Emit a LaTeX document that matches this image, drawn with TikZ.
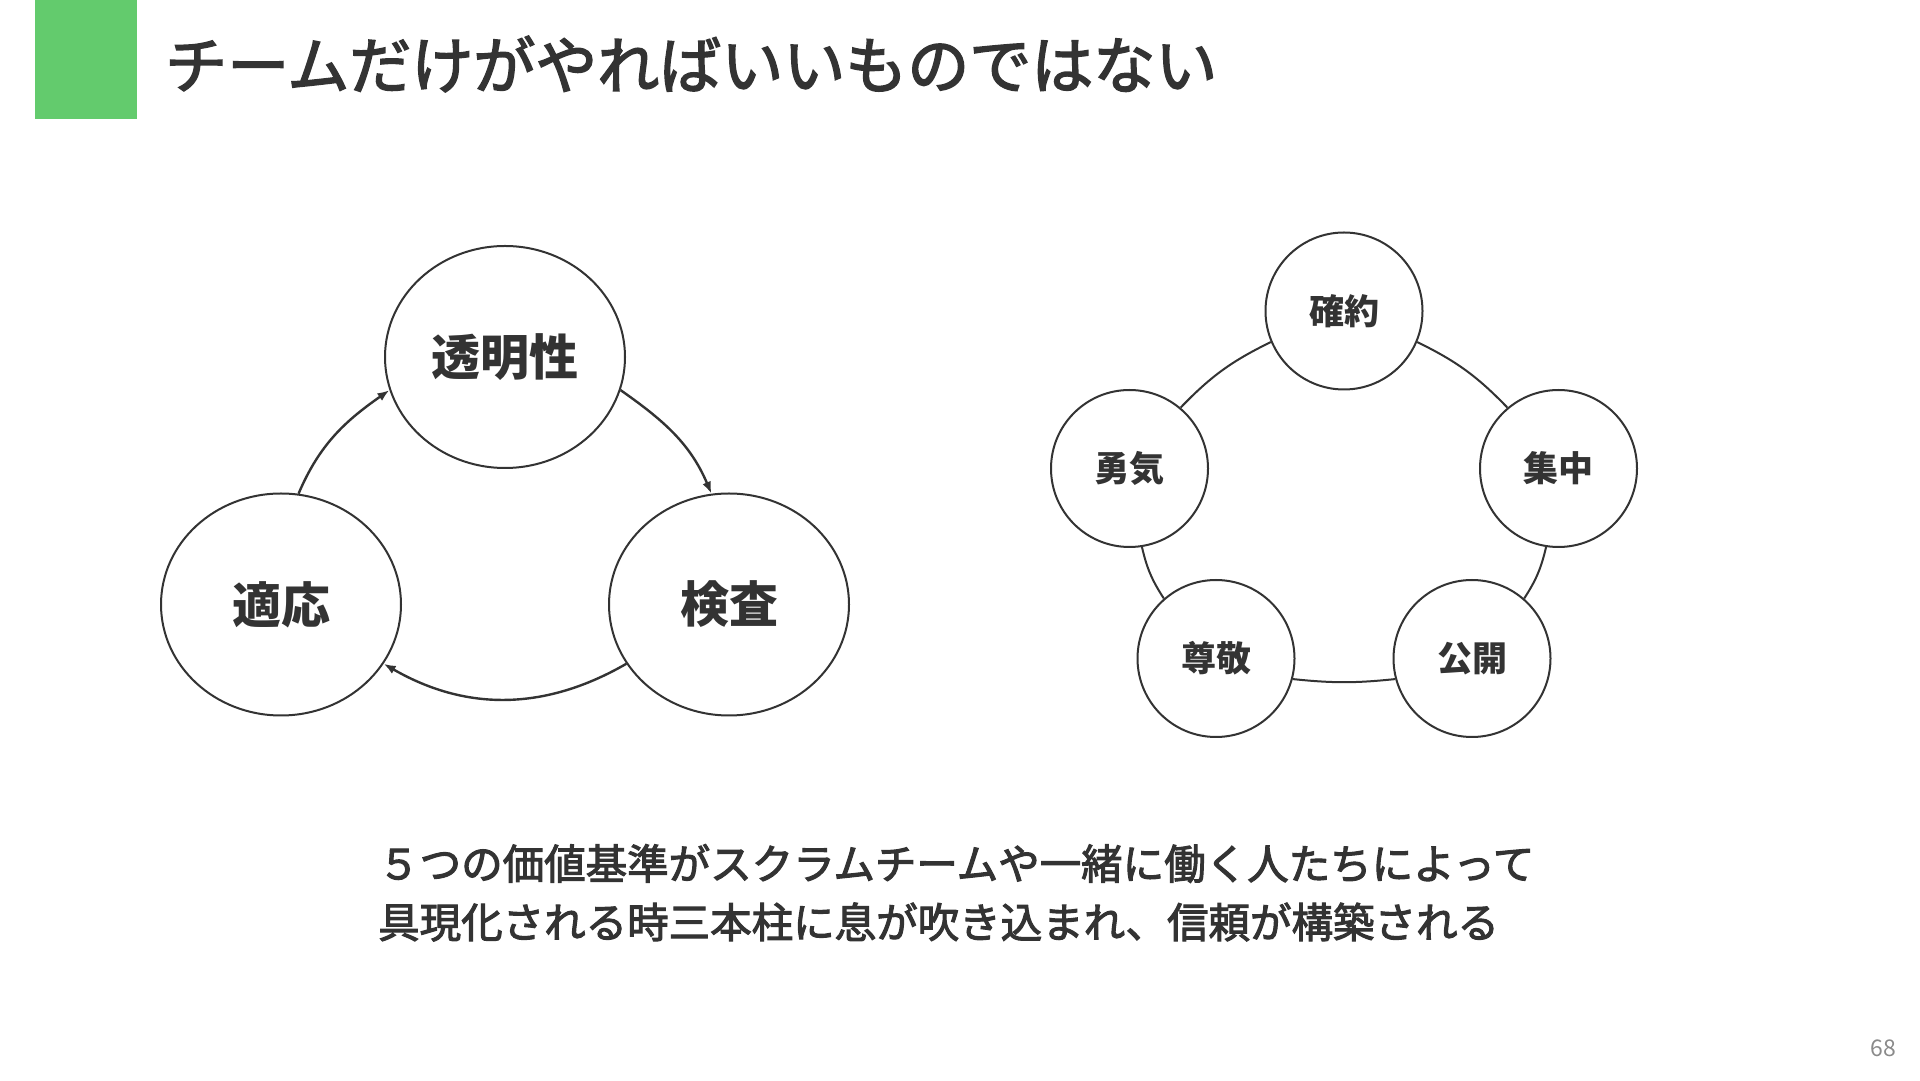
\documentclass[tikz,border=0pt]{standalone}
\usepackage{fontspec}
\setmainfont{Noto Sans CJK JP}
\newfontfamily\jpmed{Noto Sans CJK JP}[FakeBold=2.5]
\usetikzlibrary{shapes.geometric,arrows.meta}
\definecolor{ink}{HTML}{333333}
\definecolor{accent}{HTML}{63CB6D}
\definecolor{pgnum}{HTML}{8A8A8A}
\begin{document}
\begin{tikzpicture}[x=1pt,y=1pt,
  bigcirc/.style={ellipse, draw=ink, line width=2pt, minimum width=240pt, minimum height=222pt, inner sep=0pt, font=\fontsize{49}{58}\selectfont\bfseries, text=ink},
  smallcirc/.style={circle, draw=ink, line width=2pt, minimum size=157pt, inner sep=0pt, font=\fontsize{35}{42}\selectfont\bfseries, text=ink},
  flow/.style={draw=ink, line width=2.4pt, -{Latex[length=12pt,width=9pt]}},
  ring/.style={draw=ink, line width=2pt},
  plaintext/.style={anchor=west, inner sep=0pt, text=ink},
]
\useasboundingbox (0,0) rectangle (1920,1080);
\fill[white] (0,0) rectangle (1920,1080);
\node[fill=accent, minimum width=102pt, minimum height=119pt, inner sep=0pt, anchor=north west] (bar) at (35,1080) {};
\node[plaintext, font=\jpmed\fontsize{62}{74}\selectfont] (title) at (165,1016) {チームだけがやればいいものではない};

% left cycle
\node[bigcirc] (toumei) at (505,723) {透明性};
\node[bigcirc] (tekiou) at (281,475.5) {適応};
\node[bigcirc] (kensa) at (729,475.5) {検査};
\draw[flow] (tekiou.81) to[out=67,in=215] (toumei.196);
\draw[flow] (toumei.344) to[out=-35,in=113] (kensa.99);
\draw[flow] (kensa.210) to[out=210,in=-30] (tekiou.330);

% right pentagon
\node[smallcirc] (kakuyaku) at (1344,769) {確約};
\node[smallcirc] (yuuki) at (1129.5,611.5) {勇気};
\node[smallcirc] (shuuchuu) at (1558.5,611.5) {集中};
\node[smallcirc] (sonkei) at (1216,421.5) {尊敬};
\node[smallcirc] (koukai) at (1472,421.5) {公開};
\draw[ring] (kakuyaku.203) to[bend right=10] (yuuki.50);
\draw[ring] (yuuki.279) to[bend right=10] (sonkei.131);
\draw[ring] (sonkei.345) to[bend right=6] (koukai.195);
\draw[ring] (koukai.49) to[bend right=10] (shuuchuu.261);
\draw[ring] (shuuchuu.130) to[bend right=10] (kakuyaku.337);

% bottom text
\node[plaintext, font=\jpmed\fontsize{41.5}{50}\selectfont] (line1) at (378,216.5) {５つの価値基準がスクラムチームや一緒に働く人たちによって};
\node[plaintext, font=\jpmed\fontsize{41.5}{50}\selectfont] (line2) at (378,158) {具現化される時三本柱に息が吹き込まれ、信頼が構築される};

\node[text=pgnum, inner sep=0pt, font=\fontsize{23}{28}\selectfont] (page) at (1883.5,31.5) {68};
\end{tikzpicture}
\end{document}
